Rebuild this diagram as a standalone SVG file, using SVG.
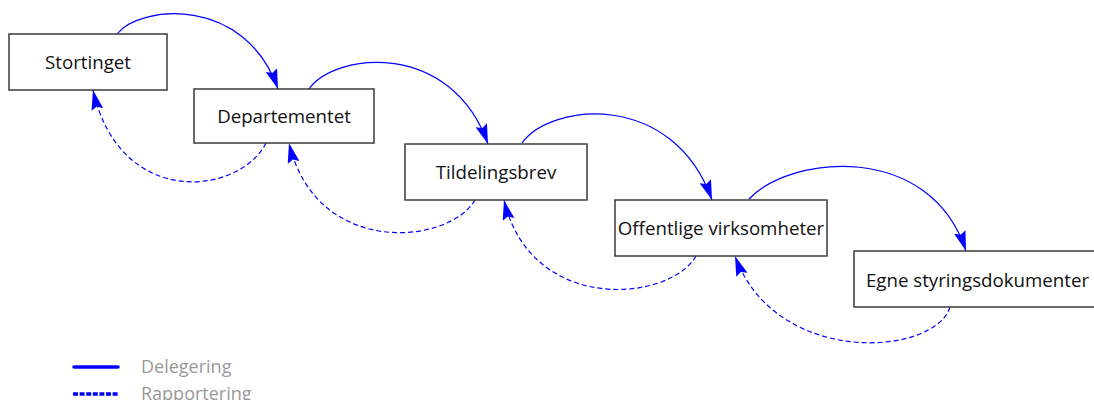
<svg xmlns="http://www.w3.org/2000/svg" width="1094" height="400" viewBox="0 0 1094 400">
  <style>
    .box { fill: #ffffff; stroke: #3a3a3a; stroke-width: 1.5; }
    .label { font-family: "Open Sans", "Noto Sans", sans-serif; font-size: 18.7px; fill: #111111; text-anchor: middle; }
    .deleg { fill: none; stroke: #0000ff; stroke-width: 1.2; marker-end: url(#head); }
    .rapp { fill: none; stroke: #0000ff; stroke-width: 1.2; stroke-dasharray: 5 3; marker-end: url(#head); }
    .legend-text { font-family: "Open Sans", "Noto Sans", sans-serif; font-size: 18px; fill: #999999; }
  </style>
  <defs>
    <marker id="head" markerUnits="userSpaceOnUse" markerWidth="21" markerHeight="13" refX="20" refY="6" orient="auto">
      <path d="M0,0 L20,6 L0,12 L3,6 Z" fill="#0000ff"/>
    </marker>
  </defs>
  <rect width="1094" height="400" fill="#ffffff"/>

  <!-- connectors -->
  <g id="connectors">
    <!-- delegation, top arcs -->
    <path class="deleg" d="M117,34 C140,5 245,-5 278,89"/>
    <path class="deleg" d="M309,89 C335,52 451,40 488,144"/>
    <path class="deleg" d="M522,143 C550,103 673,90 712,200"/>
    <path class="deleg" d="M749,199 C790,155 930,141 966,251"/>
    <!-- reporting, bottom arcs -->
    <path class="rapp" d="M266,143 C240,195 120,210 93,90"/>
    <path class="rapp" d="M475,200 C449,245 316,258 289,143"/>
    <path class="rapp" d="M696,256 C670,302 531,315 504,200"/>
    <path class="rapp" d="M950,307 C935,356 776,368 735,256"/>
  </g>

  <g id="stortinget">
    <rect class="box" x="9" y="34" width="158" height="56"/>
    <text class="label" x="88" y="69">Stortinget</text>
  </g>
  <g id="departementet">
    <rect class="box" x="194" y="89" width="180" height="54"/>
    <text class="label" x="284" y="123">Departementet</text>
  </g>
  <g id="tildelingsbrev">
    <rect class="box" x="405" y="144" width="182" height="56"/>
    <text class="label" x="496" y="179">Tildelingsbrev</text>
  </g>
  <g id="offentlige-virksomheter">
    <rect class="box" x="615" y="200" width="212" height="56"/>
    <text class="label" x="721" y="235">Offentlige virksomheter</text>
  </g>
  <g id="egne-styringsdokumenter">
    <rect class="box" x="854" y="251" width="247" height="56"/>
    <text class="label" x="977.5" y="287">Egne styringsdokumenter</text>
  </g>

  <!-- legend -->
  <g id="legend">
    <line x1="74" y1="367" x2="118" y2="367" stroke="#0000ff" stroke-width="3.5" stroke-linecap="round"/>
    <text class="legend-text" x="141" y="373">Delegering</text>
    <line x1="73" y1="394" x2="119" y2="394" stroke="#0000ff" stroke-width="3.5" stroke-dasharray="5 1.6"/>
    <text class="legend-text" x="141" y="400">Rapportering</text>
  </g>
</svg>
